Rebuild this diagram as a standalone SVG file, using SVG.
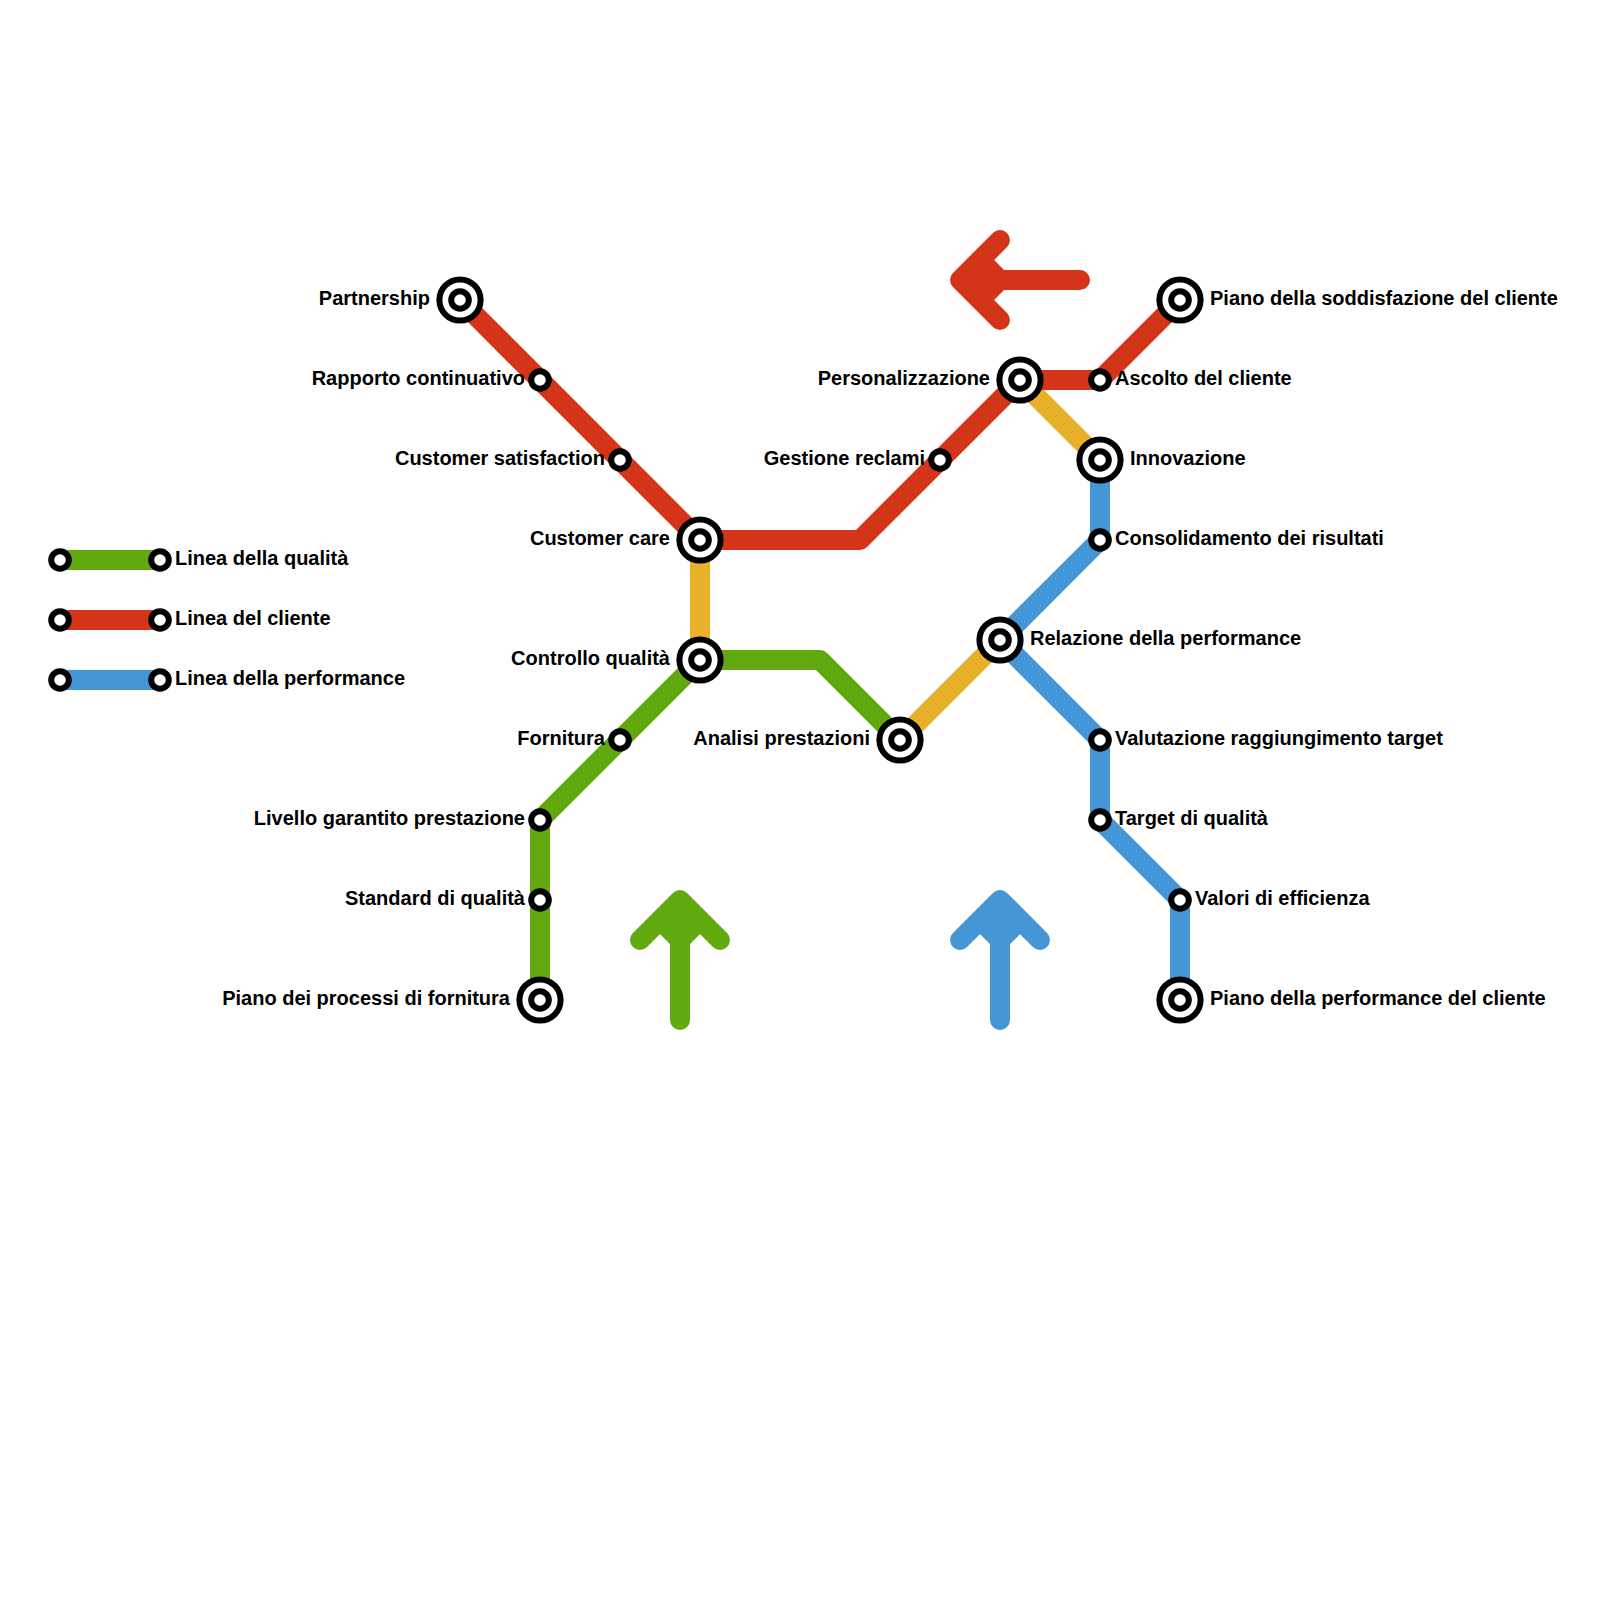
<svg xmlns="http://www.w3.org/2000/svg" xmlns:xlink="http://www.w3.org/1999/xlink" width="1600" height="1600" viewBox="0 0 1600 1600">
<style>
text{font-family:"Liberation Sans",Arial,sans-serif;font-size:20px;font-weight:700;fill:#000}
.e{text-anchor:end}
.l{fill:none;stroke-width:20;stroke-linecap:butt;stroke-linejoin:round}
.r{stroke-linecap:round}
.g{stroke:#62a90f}.d{stroke:#d43418}.b{stroke:#4496d6}.y{stroke:#e9b02a}
.o{fill:#fff;stroke:#000;stroke-width:6}
.i{fill:#fff;stroke:#000;stroke-width:6}
</style>
<defs>
<g id="big"><circle class="o" r="20.6"/><circle class="i" r="8.8"/></g>
<circle id="small" class="i" r="8.8"/>
</defs>
<rect width="1600" height="1600" fill="#fff"/>
<g id="connectors">
<path class="l y" d="M700 540V660"/>
<path class="l y" d="M1020 380L1100 460"/>
<path class="l y" d="M900 740L1000 640"/>
<path class="l g" d="M540 1000V820L700 660H820L900 740"/>
<path class="l d" d="M460 300L700 540H860L1020 380H1100L1180 300"/>
<path class="l b" d="M1100 460V540L1000 640L1100 740V820L1180 900V1000"/>
<path class="l g" d="M60 560H160"/>
<path class="l d" d="M60 620H160"/>
<path class="l b" d="M60 680H160"/>
<path class="l d r" d="M1080 280H960M1000 240L960 280L1000 320M980 260L1000 280L980 300"/>
<path class="l g r" d="M680 1020V900M640 940L680 900L720 940M660 920L680 940L700 920"/>
<path class="l b r" d="M1000 1020V900M960 940L1000 900L1040 940M980 920L1000 940L1020 920"/>
</g>
<g id="n-partnership"><use xlink:href="#big" href="#big" x="460" y="300"/><text class="e" x="430" y="305">Partnership</text></g>
<g id="n-rapporto"><use xlink:href="#small" href="#small" x="540" y="380"/><text class="e" x="525" y="385">Rapporto continuativo</text></g>
<g id="n-satisfaction"><use xlink:href="#small" href="#small" x="620" y="460"/><text class="e" x="605" y="465">Customer satisfaction</text></g>
<g id="n-care"><use xlink:href="#big" href="#big" x="700" y="540"/><text class="e" x="670" y="545">Customer care</text></g>
<g id="n-controllo"><use xlink:href="#big" href="#big" x="700" y="660"/><text class="e" x="670" y="665">Controllo qualità</text></g>
<g id="n-fornitura"><use xlink:href="#small" href="#small" x="620" y="740"/><text class="e" x="605" y="745">Fornitura</text></g>
<g id="n-livello"><use xlink:href="#small" href="#small" x="540" y="820"/><text class="e" x="525" y="825">Livello garantito prestazione</text></g>
<g id="n-standard"><use xlink:href="#small" href="#small" x="540" y="900"/><text class="e" x="525" y="905">Standard di qualità</text></g>
<g id="n-piano-fornitura"><use xlink:href="#big" href="#big" x="540" y="1000"/><text class="e" x="510" y="1005">Piano dei processi di fornitura</text></g>
<g id="n-analisi"><use xlink:href="#big" href="#big" x="900" y="740"/><text class="e" x="870" y="745">Analisi prestazioni</text></g>
<g id="n-gestione"><use xlink:href="#small" href="#small" x="940" y="460"/><text class="e" x="925" y="465">Gestione reclami</text></g>
<g id="n-personalizzazione"><use xlink:href="#big" href="#big" x="1020" y="380"/><text class="e" x="990" y="385">Personalizzazione</text></g>
<g id="n-ascolto"><use xlink:href="#small" href="#small" x="1100" y="380"/><text x="1115" y="385">Ascolto del cliente</text></g>
<g id="n-piano-soddisfazione"><use xlink:href="#big" href="#big" x="1180" y="300"/><text x="1210" y="305">Piano della soddisfazione del cliente</text></g>
<g id="n-innovazione"><use xlink:href="#big" href="#big" x="1100" y="460"/><text x="1130" y="465">Innovazione</text></g>
<g id="n-consolidamento"><use xlink:href="#small" href="#small" x="1100" y="540"/><text x="1115" y="545">Consolidamento dei risultati</text></g>
<g id="n-relazione"><use xlink:href="#big" href="#big" x="1000" y="640"/><text x="1030" y="645">Relazione della performance</text></g>
<g id="n-valutazione"><use xlink:href="#small" href="#small" x="1100" y="740"/><text x="1115" y="745">Valutazione raggiungimento target</text></g>
<g id="n-target"><use xlink:href="#small" href="#small" x="1100" y="820"/><text x="1115" y="825">Target di qualità</text></g>
<g id="n-valori"><use xlink:href="#small" href="#small" x="1180" y="900"/><text x="1195" y="905">Valori di efficienza</text></g>
<g id="n-piano-performance"><use xlink:href="#big" href="#big" x="1180" y="1000"/><text x="1210" y="1005">Piano della performance del cliente</text></g>
<g id="legend-qualita"><use xlink:href="#small" href="#small" x="60" y="560"/><use xlink:href="#small" href="#small" x="160" y="560"/><text x="175" y="565">Linea della qualità</text></g>
<g id="legend-cliente"><use xlink:href="#small" href="#small" x="60" y="620"/><use xlink:href="#small" href="#small" x="160" y="620"/><text x="175" y="625">Linea del cliente</text></g>
<g id="legend-performance"><use xlink:href="#small" href="#small" x="60" y="680"/><use xlink:href="#small" href="#small" x="160" y="680"/><text x="175" y="685">Linea della performance</text></g>
</svg>
